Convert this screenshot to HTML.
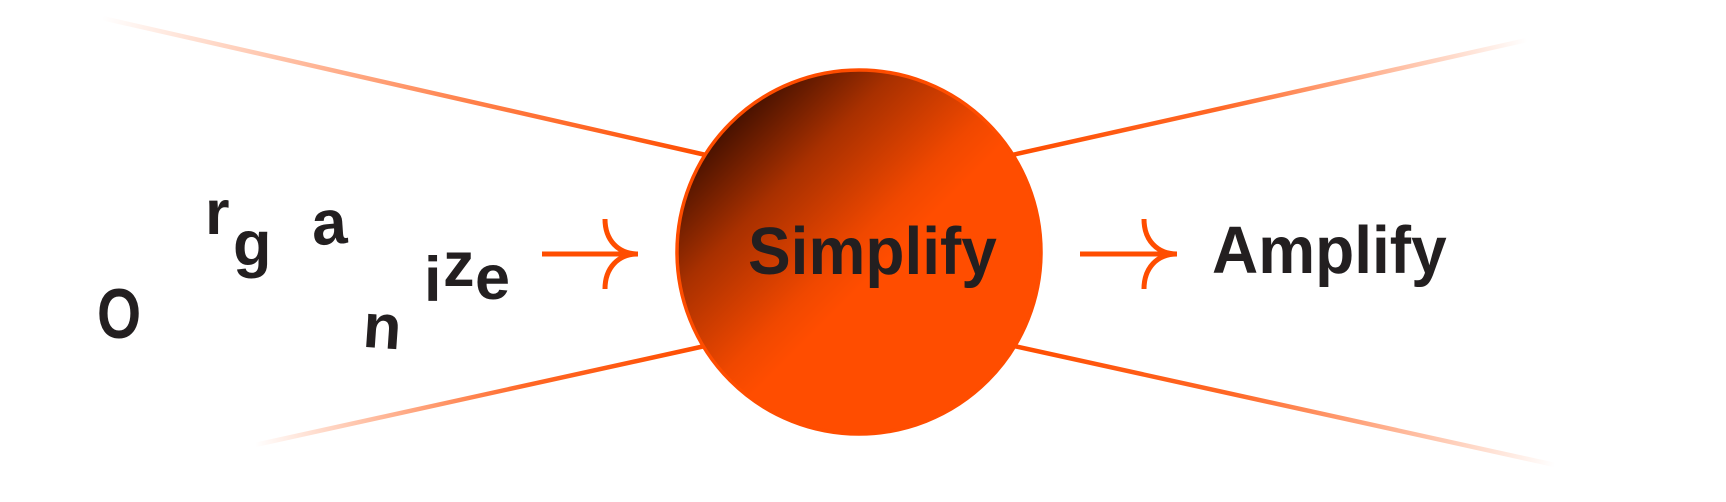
<!DOCTYPE html>
<html><head><meta charset="utf-8"><style>
html,body{margin:0;padding:0;background:#fff;width:1726px;height:502px;overflow:hidden}
svg{display:block}
text{font-family:"Liberation Sans",sans-serif;font-weight:bold;fill:#231f20}
</style></head><body>
<svg width="1726" height="502" viewBox="0 0 1726 502" xmlns="http://www.w3.org/2000/svg">
<defs>
<linearGradient id="l1" gradientUnits="userSpaceOnUse" x1="102" y1="18" x2="704" y2="154"><stop offset="0" stop-color="#ff4d00" stop-opacity="0"/><stop offset="0.6" stop-color="#ff4d00" stop-opacity="0.7"/><stop offset="1" stop-color="#ff4d00"/></linearGradient>
<linearGradient id="l2" gradientUnits="userSpaceOnUse" x1="255" y1="445" x2="703" y2="346"><stop offset="0" stop-color="#ff4d00" stop-opacity="0"/><stop offset="0.6" stop-color="#ff4d00" stop-opacity="0.85"/><stop offset="1" stop-color="#ff4d00"/></linearGradient>
<linearGradient id="l3" gradientUnits="userSpaceOnUse" x1="1527" y1="40" x2="1014" y2="155"><stop offset="0" stop-color="#ff4d00" stop-opacity="0"/><stop offset="0.6" stop-color="#ff4d00" stop-opacity="0.85"/><stop offset="1" stop-color="#ff4d00"/></linearGradient>
<linearGradient id="l4" gradientUnits="userSpaceOnUse" x1="1555" y1="465" x2="1016" y2="346"><stop offset="0" stop-color="#ff4d00" stop-opacity="0"/><stop offset="0.6" stop-color="#ff4d00" stop-opacity="0.85"/><stop offset="1" stop-color="#ff4d00"/></linearGradient>
<linearGradient id="cg" x1="0.1" y1="0.1" x2="0.55" y2="0.55"><stop offset="0" stop-color="#2a0800"/><stop offset="0.45" stop-color="#a83000"/><stop offset="0.85" stop-color="#f04800"/><stop offset="1" stop-color="#ff4d00"/></linearGradient>
</defs>
<line x1="102" y1="18" x2="706" y2="155" stroke="url(#l1)" stroke-width="4.5"/>
<line x1="255" y1="445" x2="705" y2="346" stroke="url(#l2)" stroke-width="4.5"/>
<line x1="1527" y1="40" x2="1012" y2="155" stroke="url(#l3)" stroke-width="4.5"/>
<line x1="1555" y1="465" x2="1014" y2="346" stroke="url(#l4)" stroke-width="4.5"/>
<circle cx="859" cy="252" r="182" fill="url(#cg)" stroke="#ff4d00" stroke-width="3.5"/>
<g stroke="#ff4d00" stroke-width="5" fill="none">
<line x1="542" y1="254" x2="638" y2="254"/>
<path d="M605,219 C605,240 618,254 638,254 C618,254 605,268 605,289"/>
<line x1="1080" y1="254" x2="1177" y2="254"/>
<path d="M1144,219 C1144,240 1157,254 1177,254 C1157,254 1144,268 1144,289"/>
</g>
<g transform="translate(748 274) scale(1.0 1.05)"><text x="0" y="0" font-size="64">Simplify</text></g>
<g transform="translate(1212 273) scale(1.0 1.05)"><text x="0" y="0" font-size="64">Amplify</text></g>
<g transform="translate(97 338) scale(0.9 1.12)"><text x="0" y="0" font-size="63">O</text></g>
<text x="205" y="234" font-size="63">r</text>
<text x="233" y="265" font-size="63">g</text>
<text x="312" y="244" font-size="63" transform="rotate(-4 330 230)">a</text>
<text x="363" y="348" font-size="63" transform="rotate(4 380 330)">n</text>
<text x="424" y="301" font-size="63">i</text>
<text x="443" y="286" font-size="63">z</text>
<text x="475" y="299" font-size="63">e</text>
</svg>
</body></html>
